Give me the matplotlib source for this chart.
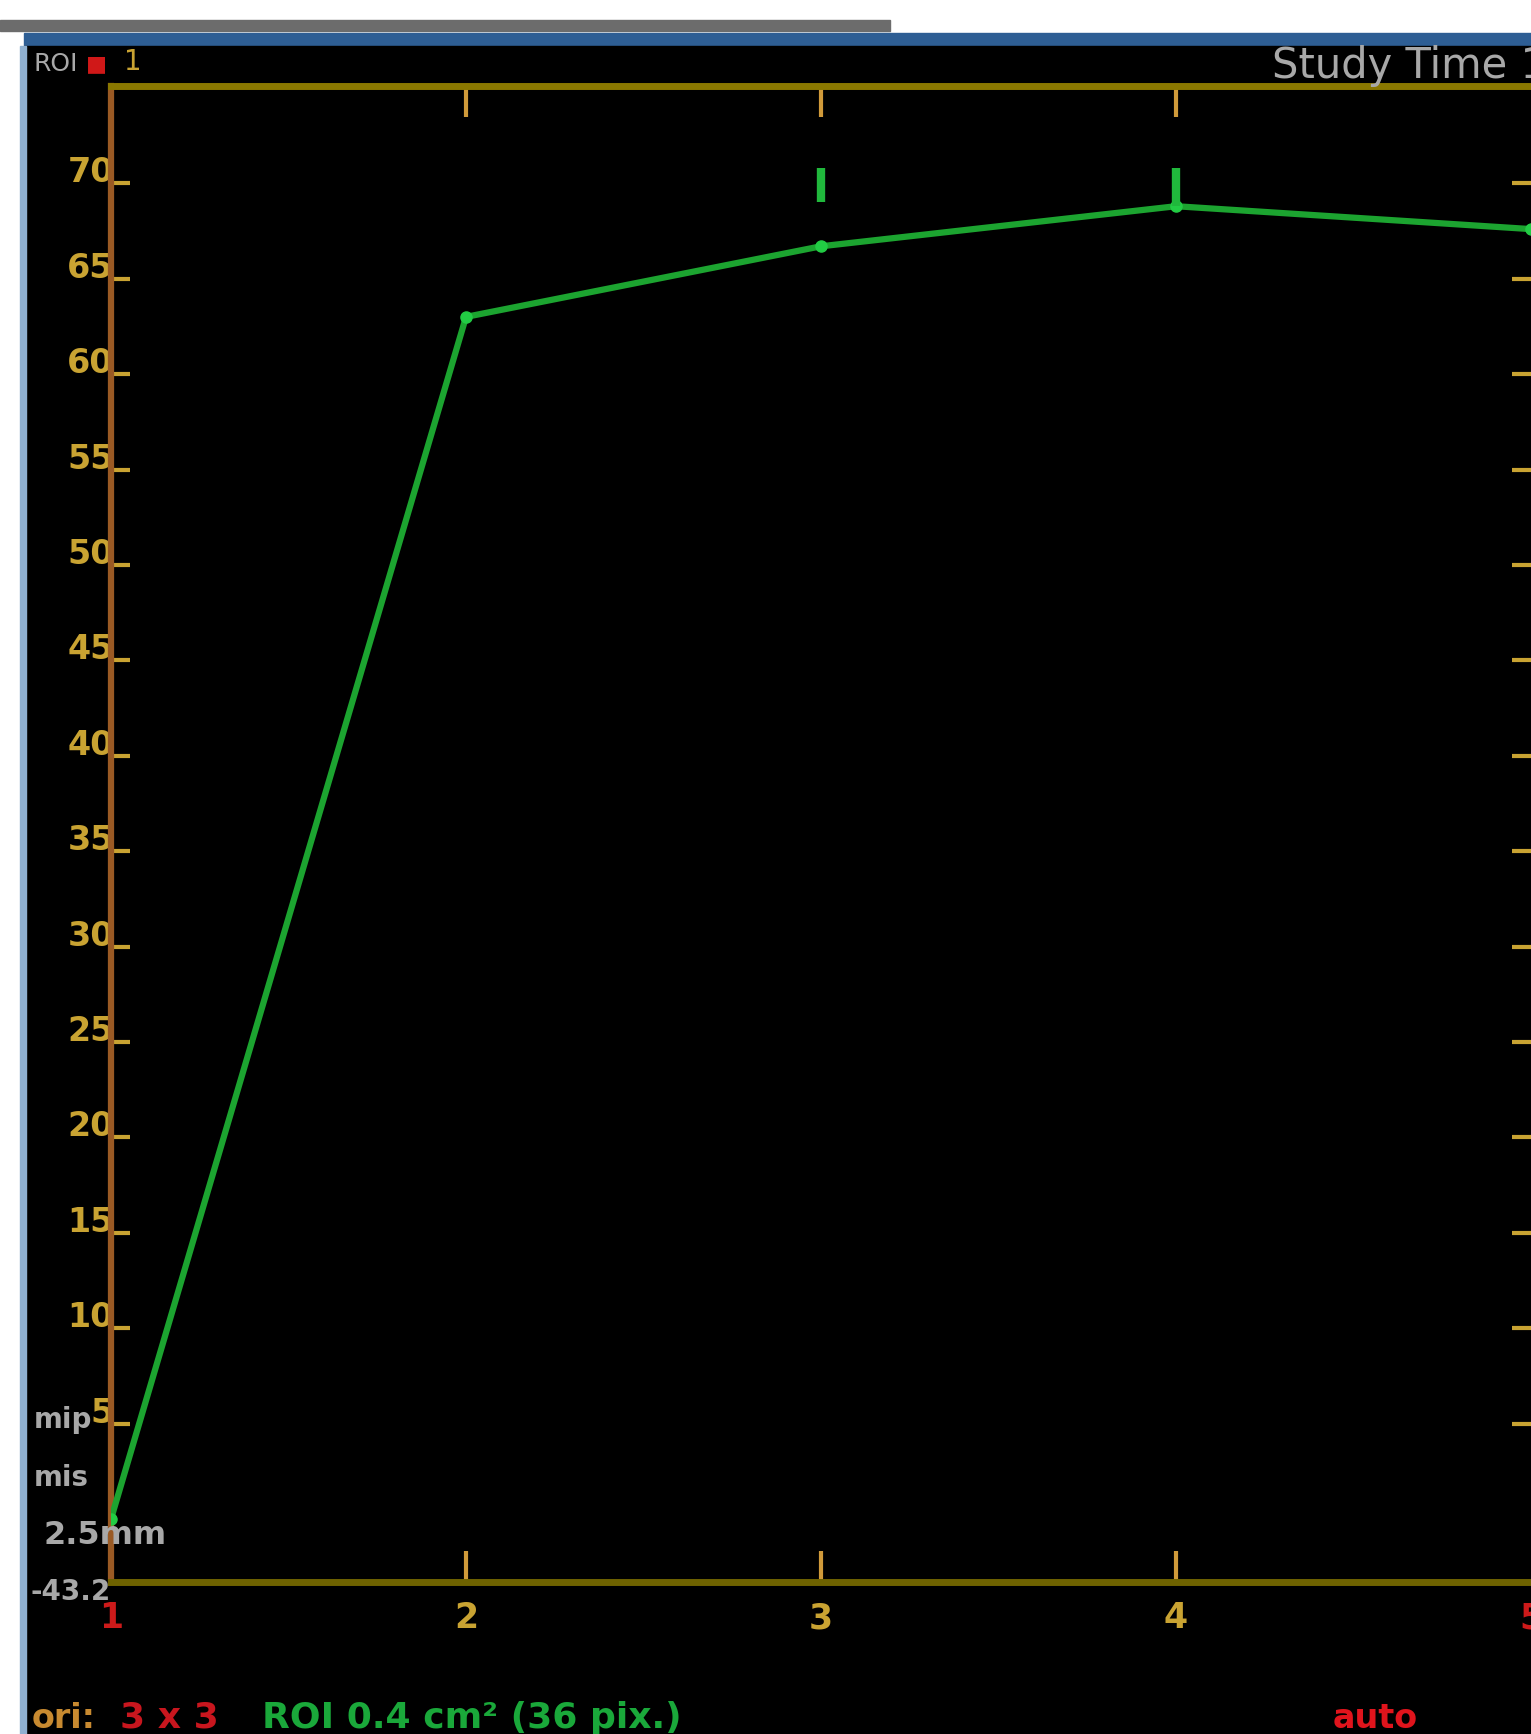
import matplotlib.pyplot as plt
import numpy as np
from matplotlib.patches import Rectangle
from matplotlib.transforms import ScaledTranslation

# time-activity curve of the ROI (frame number vs. mean value)
frames = [1, 2, 3, 4, 5]
roi_mean = [0.0, 63.0, 66.7, 68.8, 67.6]

# small spread bars shown above frames 3 and 4
bar_frames = [3, 4]
bar_low = [69.0, 68.8]
bar_high = [70.8, 70.8]

y_ticks = [5, 10, 15, 20, 25, 30, 35, 40, 45, 50, 55, 60, 65, 70]
x_ticks = [1, 2, 3, 4, 5]
x_tick_labels = ['1', '2', '3', '4', '5']

W, H = 1531, 1734
fig = plt.figure(figsize=(W / 100, H / 100), dpi=100)
fig.patch.set_facecolor('white')

fnt = ['Liberation Sans Narrow', 'DejaVu Sans']
yellow = '#c9a332'
olive = '#6e6200'
green = '#1ca430'


def fx(px):
    return px / W


def fy(py):
    return 1 - py / H


def box(x0, y0, x1, y1, color):
    # rectangle given in pixels from the top-left corner, kept behind the axes
    fig.patches.append(Rectangle((fx(x0), fy(y1)), (x1 - x0) / W, (y1 - y0) / H,
                                 transform=fig.transFigure, color=color, zorder=-10))


# window frame: grey bar, blue title strip, black viewer
box(0, 20, 890, 31, '#6c6c6c')
box(24, 33, W, 46, '#2e5e94')
box(24, 46, W, H, 'black')
box(20, 46, 26, H, '#8fb0d0')

ax = fig.add_axes([fx(111), fy(1582), 1 - fx(111), (1582 - 86) / H])
ax.set_facecolor('black')
ax.set_xlim(1, 5)
ax.set_ylim(-3.3, 75.1)

for side in ['top', 'bottom']:
    ax.spines[side].set_color(olive)
    ax.spines[side].set_linewidth(5)
ax.spines['top'].set_color('#8a7800')
ax.spines['left'].set_color('#9a5a24')
ax.spines['left'].set_linewidth(4.5)
ax.spines['right'].set_visible(False)

ax.plot(frames, roi_mean, color=green, lw=4.5, marker='o', ms=8,
        mfc='#22cc44', mec='#22cc44', zorder=3)
ax.vlines(bar_frames, bar_low, bar_high, color='#20b83c', lw=6, zorder=3)

# y axis: labels sit just above their ticks
ax.set_yticks(y_ticks)
ax.set_yticklabels([str(v) for v in y_ticks])
ax.tick_params(axis='y', which='both', direction='in', length=14, width=3,
               color=yellow, left=True, right=True, labelcolor=yellow,
               labelsize=24, pad=-2)
shift = ScaledTranslation(0, 14 / 100, fig.dpi_scale_trans)
for lab in ax.get_yticklabels():
    lab.set_transform(lab.get_transform() + shift)
    lab.set_fontfamily(fnt)
    lab.set_fontweight('bold')

ax.set_xticks(x_ticks)
ax.set_xticklabels(x_tick_labels)
ax.tick_params(axis='x', direction='in', length=22, width=3, color='#d09a3a',
               top=True, bottom=True, labelsize=25, pad=14)
for i, lab in enumerate(ax.get_xticklabels()):
    lab.set_fontfamily(fnt)
    lab.set_fontweight('bold')
    lab.set_color('#cc1a1a' if i in (0, len(x_ticks) - 1) else yellow)
for i, t in enumerate(ax.xaxis.get_major_ticks()):
    if i in (0, len(x_ticks) - 1):
        t.tick1line.set_visible(False)
        t.tick2line.set_visible(False)

# overlay texts of the viewer
grey = '#a8a8a8'
fig.text(fx(34), fy(64), 'ROI', color=grey, fontsize=18, family=fnt, va='center')
fig.text(fx(86), fy(64), '■', color='#d01818', fontsize=16, family=fnt, va='center')
fig.text(fx(124), fy(62), '1', color=yellow, fontsize=20, family=fnt, va='center')
fig.text(fx(1272), fy(66), 'Study Time 1', color=grey, fontsize=30, family=fnt, va='center')

fig.text(fx(34), fy(1420), 'mip', color=grey, fontsize=20, family=fnt, va='center', weight='bold')
fig.text(fx(34), fy(1478), 'mis', color=grey, fontsize=20, family=fnt, va='center', weight='bold')
fig.text(fx(44), fy(1536), '2.5mm', color=grey, fontsize=23, family=fnt, va='center', weight='bold')
fig.text(fx(30), fy(1592), '-43.2', color=grey, fontsize=20, family=fnt, va='center', weight='bold')

fig.text(fx(32), fy(1718), 'ori:', color='#c88a30', fontsize=24, family=fnt, va='center', weight='bold')
fig.text(fx(120), fy(1718), '3 x 3', color='#c8161e', fontsize=26, family=fnt, va='center', weight='bold')
fig.text(fx(262), fy(1718), 'ROI 0.4 cm² (36 pix.)', color='#1aa83a', fontsize=26, family=fnt,
         va='center', weight='bold')
fig.text(fx(1333), fy(1718), 'auto', color='#e0141c', fontsize=24, family=fnt, va='center', weight='bold')

fig.savefig('out.png', dpi=100, facecolor=fig.get_facecolor())
